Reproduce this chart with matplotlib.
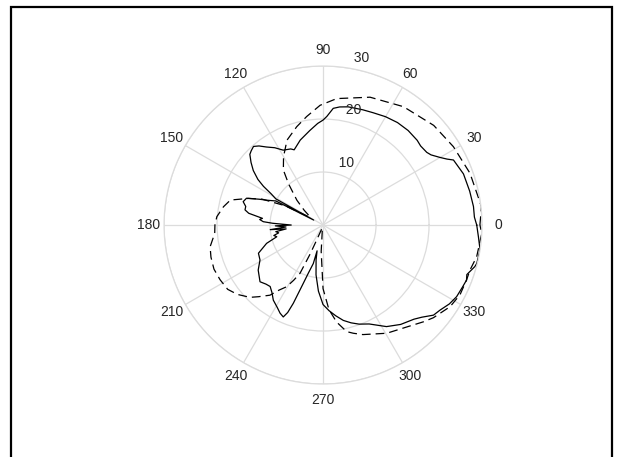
import numpy as np
import matplotlib
matplotlib.use("Agg")
import matplotlib.pyplot as plt
from matplotlib.patches import Rectangle

plt.rcParams['font.family'] = ['Liberation Sans', 'DejaVu Sans']

# measured pattern (solid) : angle in degrees, value
meas_deg = [0, 3, 7, 13, 20, 26.5, 28, 30, 33, 35, 39, 42, 48, 54, 60, 66, 71, 78, 82, 85,
            88, 90, 93, 98, 105, 111, 113, 118, 122, 126, 129, 131.5, 134, 136, 139, 142,
            145, 147, 149, 151, 152, 153, 156, 158, 160.7, 163.7, 166.5, 169, 171, 173.7,
            175, 176.8, 178, 180, 181, 183, 185, 186, 188, 190, 192, 194.2, 198, 203.6,
            209, 214.8, 222, 226, 229.3, 233, 236.5, 241, 244, 246.6, 248, 249.2, 251.3,
            253, 255.8, 257, 258.7, 262, 266, 270, 274, 278, 282, 286, 290, 295, 302,
            308, 314, 317, 320.8, 324, 328, 331.8, 336, 339, 341, 344.7, 346, 351, 355.7, 360]
meas_val = [29.0, 28.6, 28.6, 28.4, 28.2, 27.5, 26.5, 25.5, 24.3, 23.9, 23.7, 23.9, 24.0, 23.9,
            23.6, 23.2, 23.0, 22.8, 22.5, 22.1, 20.5, 19.8, 19.2, 18.0, 16.6, 15.2, 15.6,
            16.0, 17.2, 18.2, 19.2, 19.8, 19.5, 19.2, 18.0, 16.7, 15.0, 13.4, 11.4, 10.2,
            2.0, 10.0, 11.5, 13.0, 15.3, 15.7, 15.0, 15.0, 14.2, 11.5, 12.0, 11.3, 9.5,
            6.0, 9.0, 7.0, 10.0, 7.0, 9.0, 8.5, 9.5, 9.0, 11.2, 13.3, 13.6, 14.9, 16.0,
            15.5, 15.3, 16.0, 17.0, 17.8, 18.5, 18.9, 17.8, 15.8, 11.6, 9.5, 7.5, 5.0,
            6.7, 9.5, 12.5, 15.0, 16.2, 17.3, 18.4, 19.2, 19.9, 20.6, 22.6, 23.8, 24.7,
            25.5, 26.9, 27.3, 28.1, 28.6, 28.8, 29.0, 28.7, 29.7, 29.9, 30.0, 29.4, 29.0]

# simulated pattern (dashed)
sim_deg = [0, 6.6, 19.4, 31, 42, 55.8, 69.8, 83.8, 91.4, 98.6, 105, 113, 120, 125.8, 130,
           136.5, 142, 147.5, 150, 153, 157, 160.3, 164.9, 169.6, 175.5, 180, 184.4, 190.9,
           196, 202, 208, 214, 219, 224.7, 228, 232.9, 236, 239.5, 242, 244.5, 246, 247,
           250, 258, 262, 266, 270, 274, 278, 282.5, 285.6, 290, 300.5, 310, 316, 320,
           327.3, 333, 339, 343, 348.3, 357, 360]
sim_val = [29.6, 30.1, 29.4, 28.7, 28.1, 27.0, 25.7, 24.0, 22.6, 20.7, 19.2, 17.4, 14.9,
           12.8, 10.1, 6.8, 4.5, 2.9, 3.0, 8.0, 12.5, 14.9, 18.1, 19.1, 20.1, 20.4, 20.5,
           21.7, 22.0, 22.2, 22.0, 21.7, 20.8, 19.4, 18.2, 16.6, 14.8, 13.5, 11.8, 10.1,
           6.0, 3.1, 1.0, 0.5, 1.0, 5.0, 12.0, 16.0, 18.5, 20.6, 21.2, 22.0, 23.7, 25.0,
           26.3, 27.2, 28.5, 29.0, 29.0, 29.0, 29.6, 30.0, 29.6]

theta_ticks = list(range(0, 360, 30))
r_ticks = [10, 20, 30]

fig = plt.figure(figsize=(6.22, 4.57), dpi=100)
fig.patch.set_facecolor('white')

ax = fig.add_axes([0.2637, 0.1597, 0.5113, 0.6958], projection='polar')
ax.set_ylim(0, 30)
ax.set_xticks(np.deg2rad(theta_ticks))
ax.set_xticklabels([])
ax.set_yticks(r_ticks)
ax.set_yticklabels([])
ax.grid(True, color='#dcdcdc', linewidth=0.9, linestyle='-')
ax.spines['polar'].set_color('#dcdcdc')
ax.spines['polar'].set_linewidth(0.9)
ax.tick_params(length=0)

ax.plot(np.deg2rad(sim_deg), sim_val, color='black', linewidth=0.9,
        linestyle=(0, (7, 4)))
ax.plot(np.deg2rad(meas_deg), meas_val, color='black', linewidth=0.9)

for t in theta_ticks:
    ax.text(np.deg2rad(t), 33, str(t), ha='center', va='center', fontsize=10,
            color='#262626', clip_on=False)
for r in r_ticks:
    ax.text(np.deg2rad(82), r + 0.5, '  ' + str(r), ha='left', va='bottom',
            fontsize=10, color='#262626', clip_on=False)

fig.add_artist(Rectangle((11 / 622, -0.02), (612 - 11) / 622, (457 - 7) / 457 + 0.02,
                         transform=fig.transFigure, fill=False, edgecolor='black',
                         linewidth=1.6))

fig.savefig('out.png', dpi=100)
